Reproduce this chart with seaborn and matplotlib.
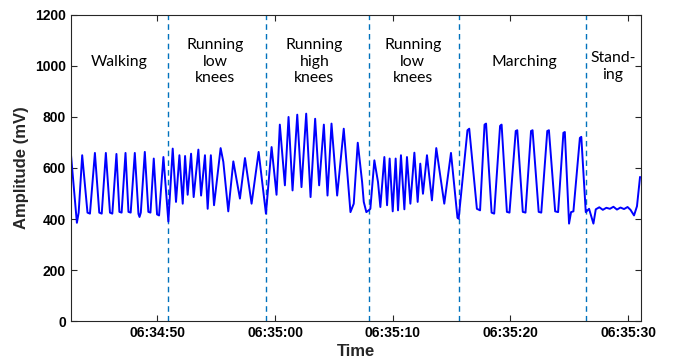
import matplotlib
matplotlib.use("Agg")
import matplotlib.pyplot as plt
import matplotlib.dates as mdates
import pandas as pd
import seaborn as sns

# ---- data ----
start_time = "2020-01-01 06:34:00"
seconds = [
    # walking
    42.66, 43.17, 43.32, 43.62, 44.07, 44.28, 44.70, 45.07, 45.28, 45.63,
    45.98, 46.18, 46.53, 46.78, 46.97, 47.30, 47.55, 47.74, 48.09, 48.40,
    48.49, 48.60, 48.94, 49.24, 49.42, 49.70, 49.98, 50.15, 50.52, 50.94,
    # running low knees
    51.31, 51.59, 51.88, 52.16, 52.36, 52.58, 52.87, 53.09, 53.49, 53.72,
    54.05, 54.28, 54.55, 54.82, 55.38, 55.61, 56.03, 56.46, 57.02, 57.45,
    58.01, 58.61, 59.23,
    # running high knees
    59.71, 60.13, 60.41, 60.84, 61.15, 61.49, 61.89, 62.25, 62.65, 63.02,
    63.41, 63.75, 64.15, 64.46, 64.80, 65.28, 65.84, 66.41, 66.69, 67.03,
    67.40, 67.54, 67.76, 67.96,
    # running low knees
    68.10, 68.44, 68.75, 68.95, 69.29, 69.52, 69.74, 70.00, 70.25, 70.45,
    70.70, 70.99, 71.21, 71.50, 71.84, 72.12, 72.34, 72.57, 72.91, 73.33,
    73.70, 74.38, 74.95, 75.50, 75.60,
    # marching
    76.35, 76.50, 77.15, 77.42, 77.80, 77.93, 78.40, 78.62, 79.12, 79.25,
    79.70, 79.92, 80.45, 80.58, 81.05, 81.28, 81.75, 81.88, 82.40, 82.62,
    83.13, 83.27, 83.80, 84.05, 84.50, 84.62, 84.98, 85.15, 85.35, 85.90,
    86.02, 86.40,
    # standing
    86.68, 87.05, 87.25, 87.55, 87.85, 88.15, 88.45, 88.75, 89.05, 89.35,
    89.65, 89.95, 90.20, 90.50, 90.75, 91.01,
]
amplitude = [
    656, 385, 425, 650, 425, 421, 659, 425, 421, 659,
    425, 421, 655, 428, 425, 659, 428, 425, 659, 420,
    408, 425, 663, 428, 425, 637, 418, 414, 643, 390,
    676, 467, 650, 460, 647, 495, 656, 486, 672, 492,
    650, 440, 650, 454, 678, 624, 430, 626, 480, 639,
    460, 663, 421,
    682, 495, 770, 532, 800, 512, 809, 525, 813, 486,
    793, 532, 770, 492, 774, 492, 754, 427, 460, 699,
    545, 467, 427, 434,
    440, 630, 545, 447, 643, 454, 637, 430, 637, 434,
    650, 438, 643, 460, 660, 467, 617, 499, 650, 473,
    678, 460, 659, 405, 401,
    748, 754, 440, 434, 770, 774, 425, 421, 765, 770,
    428, 425, 745, 748, 428, 425, 745, 748, 428, 425,
    745, 748, 430, 427, 738, 741, 382, 427, 430, 718,
    722, 427,
    440, 382, 438, 446, 436, 444, 440, 448, 437, 445,
    439, 447, 436, 414, 450, 565,
]
boundary_seconds = [50.92, 59.27, 68.00, 75.63, 86.45]
activity_labels = ["Walking", "Running\nlow\nknees", "Running\nhigh\nknees",
                   "Running\nlow\nknees", "Marching", "Stand-\ning"]
y_ticks = [0, 200, 400, 600, 800, 1000, 1200]

# ---- layout ----
label_seconds = [46.76, 54.94, 63.35, 71.70, 81.20, 88.70]
label_values = [1017, 1017, 1017, 1017, 1017, 999]

base = pd.Timestamp(start_time)
df = pd.DataFrame({
    "Time": [base + pd.Timedelta(seconds=s) for s in seconds],
    "Amplitude": amplitude,
})

sns.set_style("ticks")
plt.rcParams["font.family"] = ["Liberation Sans", "DejaVu Sans"]

fig = plt.figure(figsize=(6.74, 3.64), dpi=100)
ax = fig.add_axes([0.105, 0.118, 0.846, 0.841])

sns.lineplot(data=df, x="Time", y="Amplitude", ax=ax, color="#0000FF",
             linewidth=1.4, estimator=None)

for b in boundary_seconds:
    ax.axvline(base + pd.Timedelta(seconds=b), color="#0072BD", lw=1.0,
               ls=(0, (4, 3)), zorder=1)

for lab, s, v in zip(activity_labels, label_seconds, label_values):
    ax.text(base + pd.Timedelta(seconds=s), v, lab, ha="center", va="center",
            fontsize=11.3, family=["Lato", "DejaVu Sans"], linespacing=1.25,
            color="black")

ax.set_xlim(base + pd.Timedelta(seconds=42.65), base + pd.Timedelta(seconds=91.09))
ax.set_ylim(0, 1200)
ax.set_yticks(y_ticks)
ax.xaxis.set_major_locator(mdates.SecondLocator(bysecond=[0, 10, 20, 30, 40, 50]))
ax.xaxis.set_major_formatter(mdates.DateFormatter("%H:%M:%S"))

ax.tick_params(direction="in", top=True, right=True, length=4, width=0.8,
               colors="#262626", labelcolor="black", labelsize=10)
for lab in ax.get_xticklabels() + ax.get_yticklabels():
    lab.set_fontweight("bold")
for sp in ax.spines.values():
    sp.set_visible(True)
    sp.set_color("#262626")
    sp.set_linewidth(0.8)

ax.set_xlabel("Time", fontsize=12, fontweight="bold", labelpad=3)
ax.set_ylabel("Amplitude (mV)", fontsize=12, fontweight="bold", labelpad=4)

fig.savefig("out.png", dpi=100)
